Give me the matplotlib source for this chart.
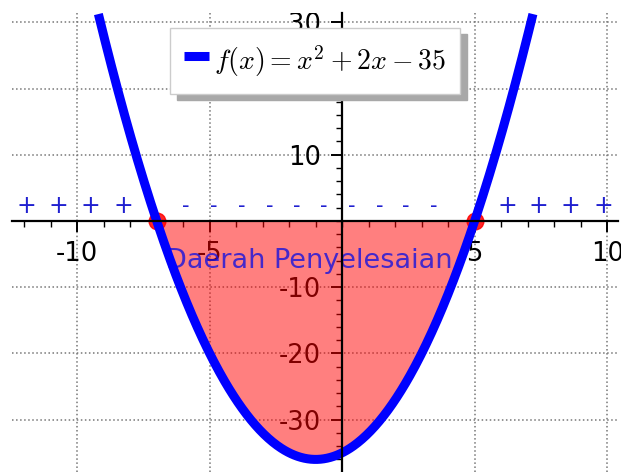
import numpy as np
import matplotlib
matplotlib.use('Agg')
import matplotlib.pyplot as plt
from matplotlib.ticker import FixedLocator, MultipleLocator

# f(x) = x^2 + 2x - 35
koef = [1, 2, -35]
akar = [-7, 5]
domain = (-9.2, 7.2)

# tanda f(x) di atas sumbu x
x_plus_kiri = [-11.9, -10.7, -9.5, -8.25]
x_plus_kanan = [6.25, 7.4, 8.6, 9.85]
x_minus = [-5.9, -4.85, -3.8, -2.75, -1.7, -0.7, 0.35, 1.4, 2.4, 3.45]
y_tanda = 2.2

xticks = [-10, -5, 5, 10]
yticks = [-30, -20, -10, 10, 20, 30]

plt.rcParams['mathtext.fontset'] = 'cm'
plt.rcParams['axes.unicode_minus'] = False

fig = plt.figure(figsize=(6.21, 4.72), dpi=100)
ax = fig.add_axes([12 / 621, 0, 606 / 621, 459 / 472])
ax.set_xlim(-12.46, 10.41)
ax.set_ylim(-37.9, 31.4)

x = np.linspace(domain[0], domain[1], 400)
y = np.polyval(koef, x)
ax.plot(x, y, color='blue', lw=6.5, solid_capstyle='butt', zorder=5,
        label=r'$f(x) = x^2 + 2x - 35$')

# daerah penyelesaian f(x) <= 0
xf = np.linspace(akar[0], akar[1], 300)
ax.fill_between(xf, np.polyval(koef, xf), 0, color='red', alpha=0.5, lw=0, zorder=2)
ax.text(-1.25, -6, 'Daerah Penyelesaian', color='#1010e0', alpha=0.78, fontsize=19.5,
        ha='center', va='center', zorder=3)

ax.plot(akar, [0, 0], 'o', color='red', ms=12, alpha=0.85, zorder=4)

for xp in x_plus_kiri + x_plus_kanan:
    ax.text(xp, y_tanda, '+', color='#2020d0', fontsize=17, ha='center', va='center')
for xm in x_minus:
    ax.text(xm, y_tanda, '-', color='#2020d0', fontsize=15, ha='center', va='center')

# sumbu berpotongan di titik asal
ax.spines['left'].set_position('zero')
ax.spines['bottom'].set_position('zero')
ax.spines['top'].set_visible(False)
ax.spines['right'].set_visible(False)
for s in ('left', 'bottom'):
    ax.spines[s].set_linewidth(1.6)
    ax.spines[s].set_zorder(6)

ax.xaxis.set_major_locator(FixedLocator(xticks))
ax.yaxis.set_major_locator(FixedLocator(yticks))
ax.xaxis.set_minor_locator(MultipleLocator(1))
ax.yaxis.set_minor_locator(MultipleLocator(2))
ax.tick_params(which='major', direction='out', length=8, width=1.4, labelsize=18.5)
ax.tick_params(axis='x', which='major', pad=6.5)
ax.tick_params(axis='y', which='major', pad=7.5)
ax.tick_params(which='minor', direction='out', length=4, width=1.0)
ax.grid(True, which='major', linestyle=':', color='#777777', lw=1.1)

# label sumbu y terpotong di batas atas area plot
for lbl in ax.get_yticklabels():
    lbl.set_clip_on(True)
    lbl.set_clip_box(ax.bbox)

leg = ax.legend(loc='upper center', bbox_to_anchor=(0.5, 0.967), borderaxespad=0,
                fontsize=20, fancybox=False,
                shadow={'ox': 5, 'oy': -4, 'alpha': 1.0, 'facecolor': '#a8a8a8',
                        'edgecolor': '#a8a8a8'},
                handlelength=0.9, handleheight=1.75, handletextpad=0.2,
                borderpad=0.5, framealpha=1)
leg.get_frame().set_edgecolor('#cccccc')
leg.set_zorder(10)

fig.savefig('out.png', dpi=100)
